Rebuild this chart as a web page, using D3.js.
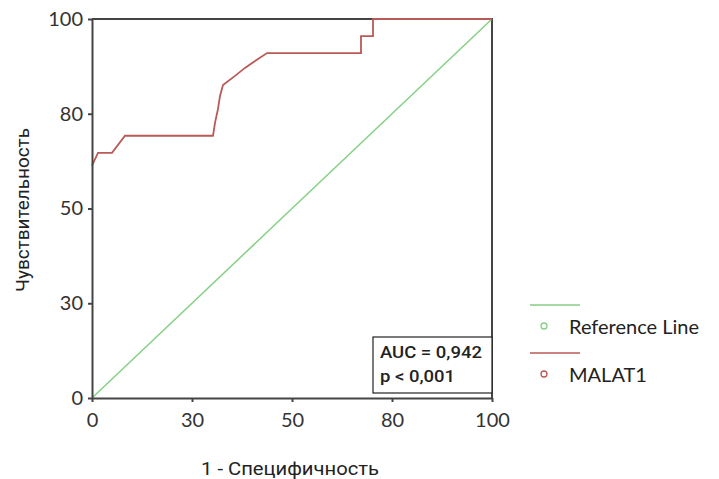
<!DOCTYPE html>
<html>
<head>
<meta charset="utf-8">
<script src="https://cdn.jsdelivr.net/npm/d3@7"></script>
<style>
  body { margin: 0; background: #fff; }
  text { font-family: Roboto, "DejaVu Sans", sans-serif; fill: #222; }
</style>
</head>
<body>
<div id="chart"></div>
<script>
// ROC curve (percent)
var fpr = [0, 1.5, 5, 8.25, 30.25, 30.75, 31.5, 32, 32.75, 35.75, 38.25, 40.75, 43.75, 67.25, 67.25, 70.25, 70.25, 100];
var tpr = [61.3, 64.7, 64.7, 69.2, 69.2, 72.6, 76.3, 79.7, 82.6, 85, 87.1, 88.9, 91, 91, 95.5, 95.5, 100, 100];
var refX = [0, 100];
var refY = [0, 100];

var tickPos = [0, 25, 50, 75, 100];
var tickLabels = ["0", "30", "50", "80", "100"];

var seriesNames = ["Reference Line", "MALAT1"];
var seriesColors = ["#86cf86", "#b85a57"];
var statsLines = ["AUC = 0,942", "p < 0,001"];

var width = 719, height = 479;
var margin = {left: 92, top: 19, right: 227, bottom: 81};

var svg = d3.select("#chart").append("svg").attr("width", width).attr("height", height);

var x = d3.scaleLinear().domain([0, 100]).range([margin.left, width - margin.right]);
var y = d3.scaleLinear().domain([0, 100]).range([height - margin.bottom, margin.top]);

var line = d3.line().x(d => x(d[0])).y(d => y(d[1]));

// box top and right
svg.append("path")
    .attr("d", "M" + x(0) + "," + y(100) + "H" + x(100) + "V" + y(0))
    .attr("fill", "none").attr("stroke", "#444").attr("stroke-width", 2);

// reference diagonal
svg.append("path")
    .datum(d3.zip(refX, refY))
    .attr("d", line)
    .attr("fill", "none").attr("stroke", seriesColors[0]).attr("stroke-width", 1.5);

// roc curve
svg.append("path")
    .datum(d3.zip(fpr, tpr))
    .attr("d", line)
    .attr("fill", "none").attr("stroke", seriesColors[1]).attr("stroke-width", 1.8);

// axes
var xAxis = svg.append("g")
    .attr("transform", "translate(0," + y(0) + ")")
    .call(d3.axisBottom(x).tickValues(tickPos).tickFormat((d, i) => tickLabels[i]).tickSize(4).tickSizeOuter(0));
var yAxis = svg.append("g")
    .attr("transform", "translate(" + x(0) + ",0)")
    .call(d3.axisLeft(y).tickValues(tickPos).tickFormat((d, i) => tickLabels[i]).tickSize(4).tickSizeOuter(0));

[xAxis, yAxis].forEach(function(g) {
    g.select(".domain").attr("stroke", "#444").attr("stroke-width", 2);
    g.selectAll(".tick line").attr("stroke", "#444").attr("stroke-width", 2);
    g.selectAll(".tick text").attr("font-size", 20).style("font-family", "Lato, sans-serif").style("fill", "#333");
});
xAxis.selectAll(".tick text").attr("y", 10).attr("dy", "0.95em");
yAxis.selectAll(".tick text").attr("x", -9);

// axis titles
svg.append("text")
    .attr("x", 290).attr("y", 475)
    .attr("text-anchor", "middle").attr("font-size", 19)
    .attr("textLength", 178).attr("lengthAdjust", "spacingAndGlyphs")
    .text("1 - Специфичность");
svg.append("text")
    .attr("transform", "translate(29,210) rotate(-90)")
    .attr("text-anchor", "middle").attr("font-size", 18)
    .attr("textLength", 164).attr("lengthAdjust", "spacingAndGlyphs")
    .text("Чувствительность");

// stats box
svg.append("rect")
    .attr("x", 373).attr("y", 337).attr("width", 119).attr("height", 56)
    .attr("fill", "#fff").attr("stroke", "#222").attr("stroke-width", 1.2);
svg.selectAll("text.stat")
    .data(statsLines)
    .enter().append("text")
    .attr("class", "stat")
    .attr("x", 380).attr("y", (d, i) => 358 + i * 24)
    .attr("font-size", 16).attr("font-weight", 500)
    .attr("textLength", (d, i) => i ? 75 : 102).attr("lengthAdjust", "spacingAndGlyphs")
    .text(d => d);

// legend
var leg = svg.selectAll("g.leg")
    .data(seriesNames)
    .enter().append("g")
    .attr("class", "leg")
    .attr("transform", (d, i) => "translate(0," + (i * 48) + ")");
leg.append("line")
    .attr("x1", 530).attr("x2", 580).attr("y1", 305).attr("y2", 305)
    .attr("stroke", (d, i) => seriesColors[i]).attr("stroke-width", 1.5);
leg.append("circle")
    .attr("cx", 544).attr("cy", 326).attr("r", 3)
    .attr("fill", "none").attr("stroke", (d, i) => seriesColors[i]).attr("stroke-width", 1.3);
leg.append("text")
    .attr("x", 569).attr("y", 334)
    .style("font-family", "Lato, sans-serif").attr("font-size", 20)
    .text(d => d);
</script>
</body>
</html>
